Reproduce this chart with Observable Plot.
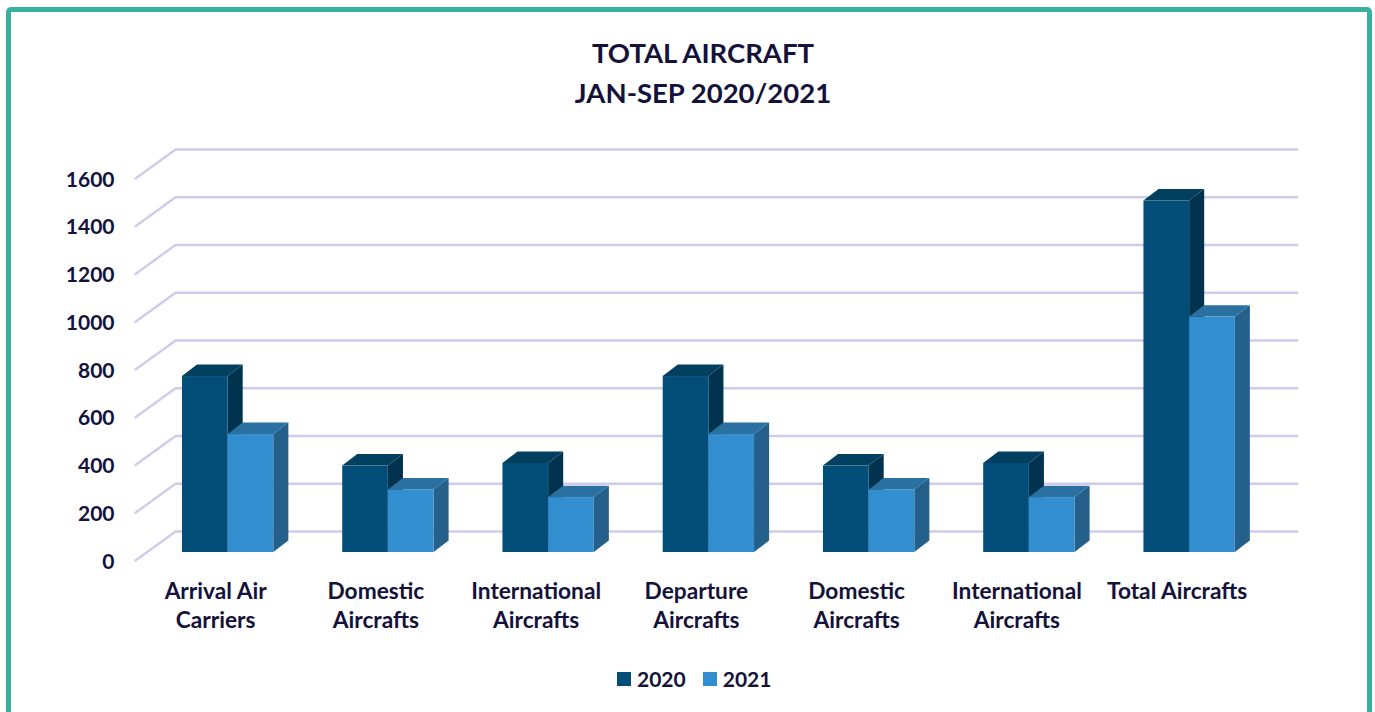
<!DOCTYPE html>
<html><head><meta charset="utf-8">
<script src="https://cdn.jsdelivr.net/npm/d3@7"></script>
<script src="https://cdn.jsdelivr.net/npm/@observablehq/plot@0.6"></script>
<style>
html,body{margin:0;padding:0;background:#fff;overflow:hidden;width:1375px;height:712px}
#page{position:relative;width:1375px;height:712px;overflow:hidden;font-family:Lato,sans-serif;color:#14113a}
#frame{position:absolute;left:6px;top:7px;width:1356px;height:760px;border:5px solid #3aae9f;border-radius:5px}
#title{position:absolute;left:0;top:33px;width:1406px;text-align:center;font-size:27.5px;font-weight:700;line-height:40px}
#chart{position:absolute;left:0;top:0}
#legend{position:absolute;left:617px;top:666px;height:25px;display:flex;align-items:center;font-size:21px;font-weight:700;line-height:25px}
#legend i{display:block;width:14px;height:14px;margin-right:6px}
#legend span{margin-right:17px}
</style></head>
<body><div id="page"><div id="frame"></div><div id="chart"></div>
<div id="title">TOTAL AIRCRAFT<br>JAN-SEP 2020/2021</div>
<div id="legend"></div></div>
<script>
const categories = ["Arrival Air\nCarriers","Domestic\nAircrafts","International\nAircrafts","Departure\nAircrafts","Domestic\nAircrafts","International\nAircrafts","Total Aircrafts"];
const values2020 = [737,362,373,737,362,373,1472];
const values2021 = [494,262,230,494,262,230,986];
const yTicks = [0,200,400,600,800,1000,1200,1400,1600];
const seriesNames = ["2020","2021"];
const colors2020 = {front:"#034e78",top:"#033f5e",side:"#02334e"};
const colors2021 = {front:"#338ecf",top:"#2a70a0",side:"#246089"};

const barWidth = 0.285, barStart = 0.293;   // in category units
const depthX = 0.094, depthY = 48;          // bar depth, in data units
const wallX = 0.25, wallFront = -33.5, wallBack = 88;

const gridRows = yTicks.flatMap(t => [
  {t, x:0, y:t+wallFront},
  {t, x:wallX, y:t+wallBack},
  {t, x:7+wallX, y:t+wallBack}
]);

function sideRows(vals, s){
  return vals.flatMap((v,i)=>{
    const xr = i+barStart+barWidth*(s+1);
    return [{id:i,x:xr,y1:0,y2:v},{id:i,x:xr+depthX,y1:depthY,y2:v+depthY}];
  });
}
function topRows(vals, s){
  return vals.flatMap((v,i)=>{
    const xl = i+barStart+barWidth*s, xr = xl+barWidth;
    return [
      {id:i,x:xl,y1:v,y2:v},
      {id:i,x:xl+depthX,y1:v,y2:v+depthY},
      {id:i,x:xr,y1:v,y2:v+depthY},
      {id:i,x:xr+depthX,y1:v+depthY,y2:v+depthY}
    ];
  });
}
function barMarks(vals, s, c){
  return [
    Plot.area(sideRows(vals,s),{x1:"x",y1:"y1",y2:"y2",z:"id",fill:c.side}),
    Plot.area(topRows(vals,s),{x1:"x",y1:"y1",y2:"y2",z:"id",fill:c.top}),
    Plot.rect(vals,{
      x1:(d,i)=>i+barStart+barWidth*s,
      x2:(d,i)=>i+barStart+barWidth*(s+1),
      y1:0,y2:d=>d,fill:c.front})
  ];
}

const chart = Plot.plot({
  width:1375,height:712,
  marginLeft:135,marginRight:118.25,marginTop:170,marginBottom:160,
  x:{domain:[0,7],axis:null},
  y:{domain:[0,1600]},
  style:{fontFamily:"Lato,sans-serif",fontWeight:700,fontSize:"21px",color:"#14113a",background:"transparent",overflow:"visible"},
  marks:[
    Plot.line(gridRows,{x:"x",y:"y",z:"t",stroke:"#cfcbec",strokeWidth:2.4,strokeLinejoin:"miter"}),
    Plot.axisY({ticks:yTicks,tickFormat:"d",tickSize:0,tickPadding:21,dy:9.5,label:null,fontVariant:"normal"}),
    ...barMarks(values2020,0,colors2020),
    ...barMarks(values2021,1,colors2021),
    Plot.text(categories,{
      x:(d,i)=>i+0.5,
      y:-110,
      text:d=>d,
      lineAnchor:"top",
      lineHeight:1.28,
      fontSize:22.7,
      fill:"#14113a"
    })
  ]
});
document.getElementById("chart").appendChild(chart);

const legend = document.getElementById("legend");
[colors2020,colors2021].forEach((c,i)=>{
  const sw = document.createElement("i"); sw.style.background = c.front;
  const t = document.createElement("span"); t.textContent = seriesNames[i];
  legend.append(sw,t);
});
</script></body></html>
